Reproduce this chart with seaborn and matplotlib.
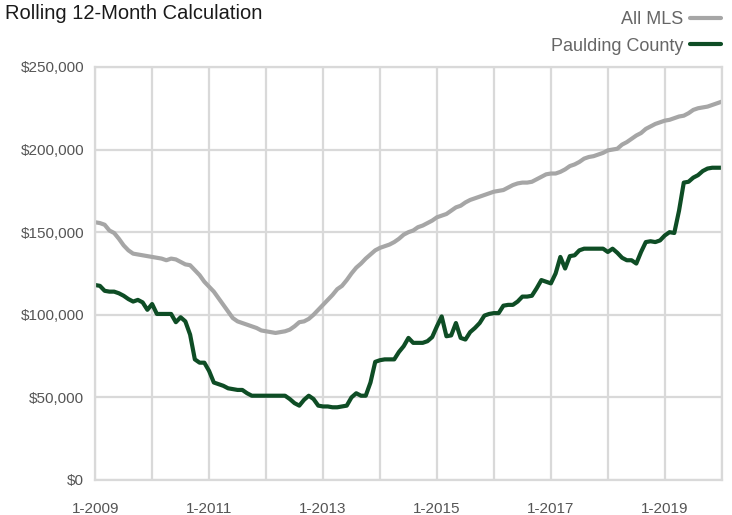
import matplotlib
matplotlib.use("Agg")
import matplotlib.pyplot as plt
import pandas as pd
import seaborn as sns

# monthly rolling 12-month values, 1-2009 .. 1-2020 (in $1000s)
all_mls = [
    156, 155.5, 154.5, 151, 149.5, 146, 142, 139, 137, 136.5, 136, 135.5,
    135, 134.5, 134, 133, 134, 133.5, 132, 130.5, 130, 127, 124, 120,
    117, 114, 110, 106, 102, 98, 96, 95, 94, 93, 92, 90.5,
    90, 89.5, 89, 89.5, 90, 91, 93, 95.5, 96, 97.5, 100, 103,
    106, 109, 112, 115.5, 117.5, 121, 125, 128.5, 131, 134, 136.5, 139,
    140.5, 141.5, 142.5, 144, 146, 148.5, 150, 151, 153, 154, 155.5, 157,
    159, 160, 161, 163, 165, 166, 168, 169.5, 170.5, 171.5, 172.5, 173.5,
    174.5, 175, 175.5, 177, 178.5, 179.5, 180, 180, 180.5, 182, 183.5, 185,
    185.5, 185.5, 186.5, 188, 190, 191, 192.5, 194.5, 195.5, 196, 197, 198,
    199.5, 200, 200.5, 203, 204.5, 206.5, 208.5, 210, 212.5, 214, 215.5, 216.5,
    217.5, 218, 219, 220, 220.5, 222, 224, 225, 225.5, 226, 227, 228,
    229,
]
paulding = [
    118, 117.5, 114.5, 114, 114, 113, 111.5, 109.5, 108, 109, 107.5, 103,
    106.5, 100.5, 100.5, 100.5, 100.5, 95.5, 98.5, 96, 88, 73, 71, 71,
    66, 59, 58, 57, 55.5, 55, 54.5, 54.5, 52.5, 51, 51, 51,
    51, 51, 51, 51, 51, 49, 46.5, 45, 48.5, 51, 49, 45,
    44.5, 44.5, 44, 44, 44.5, 45, 50, 52.5, 51, 51, 59, 71.5,
    72.5, 73, 73, 73, 77.5, 81, 86, 83, 83, 83, 84, 86.5,
    93, 99, 87, 87.5, 95, 86, 85, 89.5, 92, 95, 99.5, 100.5,
    101, 101, 105.5, 106, 106, 108, 111, 111, 111.5, 116, 121, 120,
    119, 125, 135, 128, 135.5, 136, 139, 140, 140, 140, 140, 140,
    138, 140, 137.5, 134.5, 133, 133, 131, 138, 144, 144.5, 144, 145,
    148, 150, 149.5, 163, 180, 180.5, 183, 184.5, 187, 188.5, 189, 189,
    189,
]
tick_labels = ["1-2009", "1-2011", "1-2013", "1-2015", "1-2017", "1-2019"]
series_names = ["All MLS", "Paulding County"]

df = pd.concat([
    pd.DataFrame({"month": range(len(all_mls)), "value": [v * 1000 for v in all_mls],
                  "series": series_names[0]}),
    pd.DataFrame({"month": range(len(paulding)), "value": [v * 1000 for v in paulding],
                  "series": series_names[1]}),
])

sns.set_style("white")
plt.rcParams["font.family"] = ["Liberation Sans", "DejaVu Sans"]

grid_col = "#d9d9d9"
fig = plt.figure(figsize=(7.32, 5.15), dpi=100)
ax = fig.add_axes([0.130, 0.068, 0.856, 0.802])

sns.lineplot(data=df, x="month", y="value", hue="series",
             palette={"All MLS": "#a6a6a6", "Paulding County": "#0e4d25"},
             linewidth=3, ax=ax, legend=False)

ax.set_xlim(0, len(all_mls) - 1)
ax.set_ylim(0, 250000)
ax.set_xticks(range(0, len(all_mls), 24))
ax.set_xticklabels(tick_labels)
ax.set_xticks(range(0, len(all_mls), 12), minor=True)
ax.set_yticks(range(0, 250001, 50000))
ax.set_yticklabels([f"${v:,}" for v in range(0, 250001, 50000)])
ax.grid(True, which="both", color=grid_col, linewidth=1.6)
ax.set_axisbelow(True)
for s in ax.spines.values():
    s.set_color(grid_col)
    s.set_linewidth(1.6)
ax.tick_params(axis="both", which="both", length=0, labelsize=11, colors="#555555")
ax.tick_params(axis="x", pad=16)
ax.tick_params(axis="y", pad=8)
ax.set_xlabel("")
ax.set_ylabel("")

fig.text(0.007, 0.992, "Rolling 12-Month Calculation", fontsize=14.5,
         color="#1a1a1a", va="top", ha="left")

handles = [plt.Line2D([], [], color="#a6a6a6", linewidth=3),
           plt.Line2D([], [], color="#0e4d25", linewidth=3)]
fig.legend(handles, series_names, loc="upper right", bbox_to_anchor=(1.0, 1.0),
           frameon=False, markerfirst=False, fontsize=13, labelcolor="#666666",
           handlelength=1.7, handletextpad=0.4, labelspacing=0.55, borderaxespad=0.2)

fig.savefig("out.png", dpi=100)
